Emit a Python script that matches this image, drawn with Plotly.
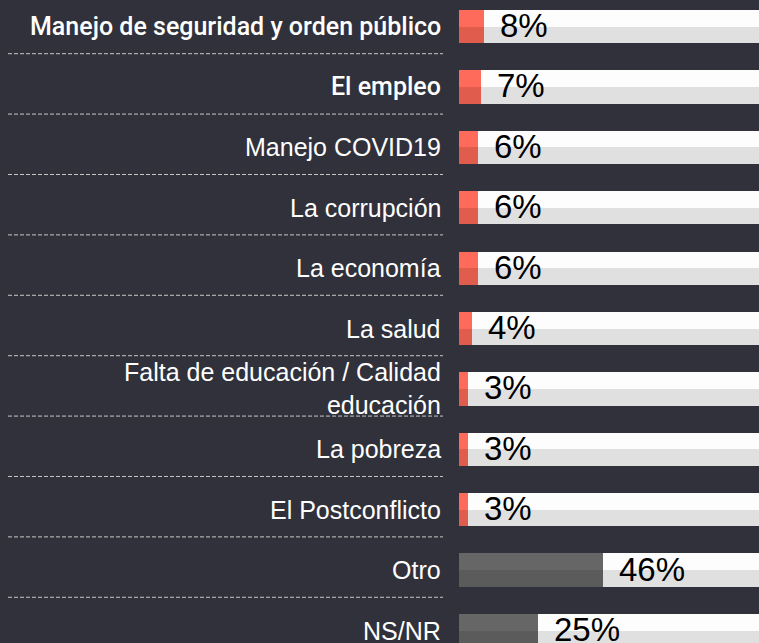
import plotly.graph_objects as go

labels = [
    "Manejo de seguridad y orden público",
    "El empleo",
    "Manejo COVID19",
    "La corrupción",
    "La economía",
    "La salud",
    "Falta de educación / Calidad<br>educación",
    "La pobreza",
    "El Postconflicto",
    "Otro",
    "NS/NR",
]
values = [8, 7, 6, 6, 6, 4, 3, 3, 3, 46, 25]
pct_labels = ["8%", "7%", "6%", "6%", "6%", "4%", "3%", "3%", "3%", "46%", "25%"]
emphasised = [True, True, False, False, False, False, False, False, False, False, False]
neutral = [False] * 9 + [True, True]
track_total = 100

n = len(labels)
idx = list(range(n))
BG = "#30313a"
half = 0.275

fig = go.Figure()
# background track (two tone)
fig.add_bar(y=idx, x=[track_total] * n, orientation="h", width=half, offset=-half,
            marker=dict(color="#fdfdfd", line=dict(width=0)), hoverinfo="skip")
fig.add_bar(y=idx, x=[track_total] * n, orientation="h", width=half, offset=0,
            marker=dict(color="#e0e0e0", line=dict(width=0)), hoverinfo="skip")
# value bars (two tone)
top_cols = ["#666666" if g else "#ff6b5a" for g in neutral]
bot_cols = ["#5b5b5b" if g else "#e05c4d" for g in neutral]
fig.add_bar(y=idx, x=values, orientation="h", width=half, offset=-half,
            marker=dict(color=top_cols, line=dict(width=0)))
fig.add_bar(y=idx, x=values, orientation="h", width=half, offset=0,
            marker=dict(color=bot_cols, line=dict(width=0)))

annotations = []
for i, (v, t) in enumerate(zip(values, pct_labels)):
    annotations.append(dict(x=v, y=i, xref="x", yref="y", text=t, showarrow=False,
                            xanchor="left", yanchor="middle", xshift=14, yshift=1,
                            font=dict(family="Liberation Sans", size=33, color="#000000")))
for i, (lab, emp) in enumerate(zip(labels, emphasised)):
    if emp:
        f = dict(family="Roboto", size=25, color="#ffffff", weight=500)
    else:
        f = dict(family="Liberation Sans", size=25, color="#ffffff")
    annotations.append(dict(x=0, y=i, xref="paper", yref="y", text=lab, showarrow=False,
                            xanchor="right", yanchor="middle", xshift=-16, align="right",
                            font=f))

shapes = []
for i in range(n - 1):
    yy = i + 0.5 - 0.05
    shapes.append(dict(type="line", xref="paper", yref="y", x0=(8 - 459) / 300, x1=(443 - 459) / 300,
                       y0=yy, y1=yy, line=dict(color="#c8c8c8", width=1, dash="4px,2px")))

fig.update_layout(
    width=759, height=643,
    margin=dict(l=459, r=0, t=0, b=0),
    paper_bgcolor=BG, plot_bgcolor=BG,
    barmode="overlay", showlegend=False, bargap=0,
    xaxis=dict(range=[0, 300 / 3.14], visible=False, fixedrange=True),
    yaxis=dict(range=[10.207, -0.439], visible=False, fixedrange=True),
    annotations=annotations, shapes=shapes,
)
fig.write_html("out.html", config={"displayModeBar": False},
               post_script="document.body.style.margin='0';document.body.style.overflow='hidden';")
